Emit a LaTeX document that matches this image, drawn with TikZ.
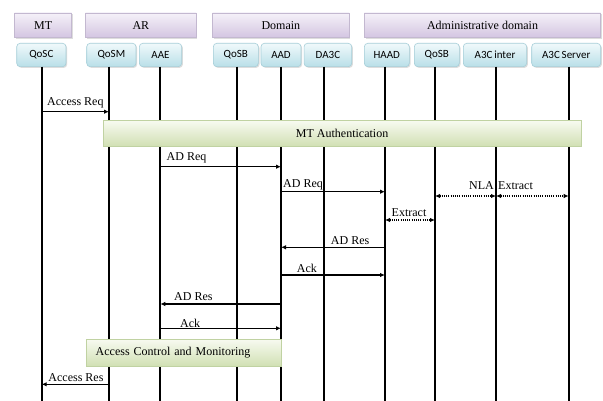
\documentclass[tikz,border=0pt]{standalone}
\usepackage{fontspec}
\setmainfont{Liberation Serif}
\newfontfamily\boxfont{Carlito}
\usetikzlibrary{arrows.meta,shadows}

\definecolor{hdrtop}{HTML}{F5F1F9}
\definecolor{hdrbot}{HTML}{D3C5E1}
\definecolor{hdrline}{HTML}{C3B8D0}
\definecolor{enttop}{HTML}{F0F9FB}
\definecolor{entbot}{HTML}{B9DFE8}
\definecolor{entline}{HTML}{A6CED8}
\definecolor{phtop}{HTML}{F7FAF0}
\definecolor{phbot}{HTML}{D1E0B4}
\definecolor{phline}{HTML}{C0D2A2}

\begin{document}
\begin{tikzpicture}[x=1pt,y=-1pt,
  softshadow/.style={drop shadow={shadow xshift=1.2pt,shadow yshift=-1.2pt,opacity=0.22,fill=black!60}},
  hdr/.style={rectangle,draw=hdrline,line width=0.6pt,top color=hdrtop,bottom color=hdrbot,
    minimum height=24.7,inner sep=0pt,font=\fontsize{12}{14}\selectfont,softshadow},
  ent/.style={rectangle,rounded corners=3.5pt,draw=entline,line width=0.6pt,top color=enttop,bottom color=entbot,
    minimum height=23.4,inner sep=0pt,font=\boxfont\fontsize{11}{13}\selectfont,softshadow},
  phase/.style={rectangle,draw=phline,line width=0.6pt,top color=phtop,bottom color=phbot,
    inner sep=0pt,font=\fontsize{12}{14}\selectfont,softshadow},
  life/.style={line width=2.2pt,black},
  msg/.style={line width=1.4pt,-{Latex[length=5pt,width=4.5pt]}},
  sync/.style={line width=1.4pt,dash pattern=on 1.1pt off 1.1pt,{Latex[length=5pt,width=4.5pt]}-{Latex[length=5pt,width=4.5pt]}},
  lbl/.style={inner sep=0pt,font=\fontsize{12}{14}\selectfont}]

\useasboundingbox (0,0) rectangle (603,401);
\fill[white] (0,0) rectangle (603,401);

% group headers
\node[hdr,minimum width=57]    (hMT)  at (43.2,25.3)  {MT};
\node[hdr,minimum width=110.3] (hAR)  at (140.85,25.3) {AR};
\node[hdr,minimum width=136.3] (hDom) at (280.85,25.3) {Domain};
\node[hdr,minimum width=236.4] (hAdm) at (482.5,25.3) {Administrative domain};

% entities
\node[ent,minimum width=49.3] (qosc)  at (41.35,55)  {QoSC};
\node[ent,minimum width=49.3] (qosm)  at (111.35,55) {QoSM};
\node[ent,minimum width=42.4] (aae)   at (160.5,55)  {AAE};
\node[ent,minimum width=45]   (qosb)  at (235.8,55)  {QoSB};
\node[ent,minimum width=40]   (aad)   at (281,55)    {AAD};
\node[ent,minimum width=47.7] (da3c)  at (327.9,55)  {DA3C};
\node[ent,minimum width=45]   (haad)  at (386.8,55)  {HAAD};
\node[ent,minimum width=45]   (qosbb) at (436.8,55)  {QoSB};
\node[ent,minimum width=63.4] (a3ci)  at (495,55)    {A3C\,inter};
\node[ent,minimum width=69]   (a3cs)  at (566.2,55)  {A3C\,Server};

% lifeline anchors
\coordinate (Lqosc)  at (41.7,66.7);
\coordinate (Lqosm)  at (109,66.7);
\coordinate (Laae)   at (160.3,66.7);
\coordinate (Lqosb)  at (237.3,66.7);
\coordinate (Laad)   at (281,66.7);
\coordinate (Lda3c)  at (324.3,66.7);
\coordinate (Lhaad)  at (385,66.7);
\coordinate (Lqosbb) at (435,66.7);
\coordinate (La3ci)  at (496,66.7);
\coordinate (La3cs)  at (568.7,66.7);
\coordinate (floor)  at (0,401);

\foreach \l in {Lqosc,Lqosm,Laae,Lqosb,Laad,Lda3c,Lhaad,Lqosbb,La3ci,La3cs}
  \draw[life] (\l) -- (\l |- floor);

% phases
\node[phase,minimum width=477.7,minimum height=25.3] (auth) at (342.15,133.35) {MT Authentication};
\node[phase,text width=176.3,inner xsep=9pt,minimum height=26.7,align=left] (acm) at (183.85,352.65) {Access Control and Monitoring};

% messages
\draw[msg] (Lqosc |- 0,111.7) -- (Lqosm |- 0,111.7);
\node[lbl,anchor=base west] (m1) at (47,106) {Access Req};

\draw[msg] (Laae |- 0,166.7) -- (Laad |- 0,166.7);
\node[lbl,anchor=base west] (m2) at (166.5,161) {AD Req};

\draw[msg] (Laad |- 0,191.7) -- (Lhaad |- 0,191.7);
\node[lbl,anchor=base west] (m3) at (283,187.5) {AD Req};

\draw[sync] (Lqosbb |- 0,196) -- (La3ci |- 0,196);
\node[lbl,anchor=base east] (m4) at (494,189.5) {NLA};
\draw[sync] (La3ci |- 0,196) -- (La3cs |- 0,196);
\node[lbl,anchor=base west] (m5) at (498,189.5) {Extract};

\draw[sync] (Lhaad |- 0,220) -- (Lqosbb |- 0,220);
\node[lbl,anchor=base west] (m6) at (391.5,216.5) {Extract};

\draw[msg] (Lhaad |- 0,247.3) -- (Laad |- 0,247.3);
\node[lbl,anchor=base east] (m7) at (369.5,244.5) {AD Res};

\draw[msg] (Laad |- 0,275) -- (Lhaad |- 0,275);
\node[lbl,anchor=base west] (m8) at (296.7,272.5) {Ack};

\draw[msg] (Laad |- 0,304) -- (Laae |- 0,304);
\node[lbl,anchor=base west] (m9) at (174,300) {AD Res};

\draw[msg] (Laae |- 0,328.3) -- (Laad |- 0,328.3);
\node[lbl,anchor=base west] (m10) at (180,327) {Ack};

\draw[msg] (Lqosm |- 0,384.3) -- (Lqosc |- 0,384.3);
\node[lbl,anchor=base west] (m11) at (48.3,381.5) {Access Res};

\end{tikzpicture}
\end{document}
